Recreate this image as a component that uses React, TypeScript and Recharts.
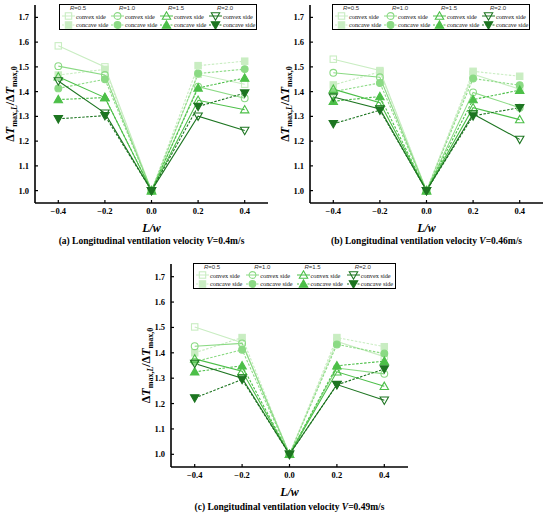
import { LineChart, Line, XAxis, YAxis, Legend } from 'recharts'

const SERIF = '"Liberation Serif", "Times New Roman", serif'
const SANS = '"Liberation Sans", Arial, sans-serif'

const X_VALUES = [-0.4, -0.2, 0, 0.2, 0.4]
const X_TICKS = [-0.4, -0.2, 0, 0.2, 0.4]
const Y_TICKS = [1.0, 1.1, 1.2, 1.3, 1.4, 1.5, 1.6, 1.7]
const RADII = ['0.5', '1.0', '1.5', '2.0']
const SERIES_COLORS = ['#c9edc2', '#8bda84', '#4cbf48', '#1d7521']
const MARKERS: Shape[] = ['square', 'circle', 'triangle', 'triangleDown']

// (a) V = 0.4 m/s
const A_CONVEX_R05 = [1.585, 1.5, 1.0, 1.47, 1.43]
const A_CONCAVE_R05 = [1.467, 1.49, 1.0, 1.505, 1.523]
const A_CONVEX_R10 = [1.503, 1.467, 1.0, 1.42, 1.373]
const A_CONCAVE_R10 = [1.413, 1.45, 1.0, 1.473, 1.491]
const A_CONVEX_R15 = [1.46, 1.376, 1.0, 1.365, 1.327]
const A_CONCAVE_R15 = [1.368, 1.376, 1.0, 1.415, 1.455]
const A_CONVEX_R20 = [1.443, 1.313, 1.0, 1.301, 1.243]
const A_CONCAVE_R20 = [1.29, 1.303, 1.0, 1.34, 1.394]

// (b) V = 0.46 m/s
const B_CONVEX_R05 = [1.531, 1.485, 1.0, 1.47, 1.41]
const B_CONCAVE_R05 = [1.427, 1.48, 1.0, 1.482, 1.462]
const B_CONVEX_R10 = [1.476, 1.458, 1.0, 1.397, 1.335]
const B_CONCAVE_R10 = [1.4, 1.435, 1.0, 1.453, 1.426]
const B_CONVEX_R15 = [1.41, 1.355, 1.0, 1.335, 1.287]
const B_CONCAVE_R15 = [1.361, 1.38, 1.0, 1.368, 1.406]
const B_CONVEX_R20 = [1.378, 1.33, 1.0, 1.31, 1.207]
const B_CONCAVE_R20 = [1.27, 1.325, 1.0, 1.302, 1.335]

// (c) V = 0.49 m/s
const C_CONVEX_R05 = [1.502, 1.44, 1.0, 1.445, 1.385]
const C_CONCAVE_R05 = [1.4, 1.46, 1.0, 1.46, 1.424]
const C_CONVEX_R10 = [1.426, 1.437, 1.0, 1.34, 1.317]
const C_CONCAVE_R10 = [1.365, 1.412, 1.0, 1.433, 1.397]
const C_CONVEX_R15 = [1.376, 1.327, 1.0, 1.325, 1.268]
const C_CONCAVE_R15 = [1.325, 1.349, 1.0, 1.349, 1.367]
const C_CONVEX_R20 = [1.358, 1.3, 1.0, 1.275, 1.213]
const C_CONCAVE_R20 = [1.222, 1.295, 1.0, 1.274, 1.336]

type Shape = 'square' | 'circle' | 'triangle' | 'triangleDown'

function Marker({ shape, cx, cy, color, filled }: { shape: Shape; cx: number; cy: number; color: string; filled: boolean }) {
  const common = { stroke: color, strokeWidth: 1.1, fill: filled ? color : 'none' }
  switch (shape) {
    case 'square':
      return <rect x={cx - 3.2} y={cy - 3.2} width={6.4} height={6.4} {...common} />
    case 'circle':
      return <circle cx={cx} cy={cy} r={3.4} {...common} />
    case 'triangle':
      return <polygon points={`${cx},${cy - 4.2} ${cx - 4.2},${cy + 3.2} ${cx + 4.2},${cy + 3.2}`} {...common} />
    default:
      return <polygon points={`${cx - 4.2},${cy - 3.2} ${cx + 4.2},${cy - 3.2} ${cx},${cy + 4.2}`} {...common} />
  }
}

const makeDot = (shape: Shape, color: string, filled: boolean) => (props: any) => {
  const { cx, cy, index } = props
  if (cx == null || cy == null) return <g key={`d-${index}`} />
  return (
    <g key={`d-${index}`}>
      <Marker shape={shape} cx={cx} cy={cy} color={color} filled={filled} />
    </g>
  )
}

function LegendBox({ width }: { width: number }) {
  const col = (width - 2) / 4
  return (
    <div
      style={{
        position: 'relative',
        width,
        height: 25.5,
        border: '1.2px solid #000',
        boxSizing: 'border-box',
        background: '#fff'
      }}
    >
      {RADII.map((r, i) => (
        <div key={r} style={{ position: 'absolute', left: 2 + i * col, top: 0, width: col, height: 24 }}>
          <div
            style={{
              position: 'absolute',
              left: 8,
              width: 14,
              top: 0,
              textAlign: 'center',
              fontFamily: SANS,
              fontSize: 6,
              lineHeight: '7px',
              color: '#333',
              whiteSpace: 'nowrap'
            }}
          >
            <i>R</i>={r}
          </div>
          <svg style={{ position: 'absolute', left: 0, top: 6 }} width={13} height={18}>
            <line x1={0} y1={5} x2={13} y2={5} stroke={SERIES_COLORS[i]} strokeWidth={1} />
            <Marker shape={MARKERS[i]} cx={6.5} cy={5} color={SERIES_COLORS[i]} filled={false} />
            <line x1={0} y1={14} x2={13} y2={14} stroke={SERIES_COLORS[i]} strokeWidth={1} strokeDasharray="2 1.5" />
            <Marker shape={MARKERS[i]} cx={6.5} cy={14} color={SERIES_COLORS[i]} filled={true} />
          </svg>
          {['convex side', 'concave side'].map((t, k) => (
            <div
              key={t}
              style={{
                position: 'absolute',
                left: 14,
                top: 7.5 + k * 8.7,
                fontFamily: SERIF,
                fontSize: 6.3,
                lineHeight: '7px',
                color: '#111',
                whiteSpace: 'nowrap'
              }}
            >
              {t}
            </div>
          ))}
        </div>
      ))}
    </div>
  )
}

interface PanelProps {
  left: number
  top: number
  width: number
  plotHeight: number
  xAxisHeight: number
  convex: number[][]
  concave: number[][]
  letter: string
  velocity: string
  legendLeft: number
  legendWidth: number
  captionGap: number
}

function Panel({ left, top, width, plotHeight, xAxisHeight, convex, concave, letter, velocity, legendLeft, legendWidth, captionGap }: PanelProps) {
  const plotTop = 5
  const yAxisWidth = 35
  const marginRight = 7
  const height = plotTop + plotHeight + xAxisHeight
  const plotWidth = width - yAxisWidth - marginRight

  const data = X_VALUES.map((x, i) => {
    const row: Record<string, number> = { x }
    RADII.forEach((_, r) => {
      row[`cvx${r}`] = convex[r][i]
      row[`ccv${r}`] = concave[r][i]
    })
    return row
  })

  const renderYLabel = () => {
    const cy = plotTop + plotHeight / 2
    return (
      <text transform={`translate(14, ${cy}) rotate(-90)`} textAnchor="middle" fontFamily={SERIF} fontWeight="bold" fontSize={12} fill="#000">
        <tspan>Δ</tspan>
        <tspan fontStyle="italic">T</tspan>
        <tspan fontSize={8} dy={2.5}>max,</tspan>
        <tspan fontSize={8} fontStyle="italic">L</tspan>
        <tspan dy={-2.5}>/Δ</tspan>
        <tspan fontStyle="italic">T</tspan>
        <tspan fontSize={8} dy={2.5}>max,0</tspan>
      </text>
    )
  }

  const renderXLabel = () => (
    <text
      x={yAxisWidth + plotWidth / 2}
      y={plotTop + plotHeight + 29}
      textAnchor="middle"
      fontFamily={SERIF}
      fontWeight="bold"
      fontStyle="italic"
      fontSize={12}
      fill="#000"
    >
      L/w
    </text>
  )

  const tickStyle = { fill: '#000', fontFamily: SERIF, fontWeight: 'bold', fontSize: 8.5 }
  const frame = { stroke: '#000', strokeWidth: 1.6 }

  return (
    <div style={{ position: 'absolute', left, top, width, height: height + captionGap + 12 }}>
      <LineChart width={width} height={height} data={data} margin={{ top: plotTop, right: marginRight, bottom: 0, left: 0 }}>
        <XAxis
          dataKey="x"
          type="number"
          domain={[-0.5, 0.5]}
          ticks={X_TICKS}
          interval={0}
          height={xAxisHeight}
          tickSize={-3}
          tickMargin={8}
          tick={tickStyle}
          tickFormatter={(v: number) => (v < 0 ? `\u2212${Math.abs(v).toFixed(1)}` : v.toFixed(1))}
          axisLine={frame}
          tickLine={{ stroke: '#000', strokeWidth: 1.2 }}
          label={{ content: renderXLabel }}
        />
        <XAxis xAxisId="top" orientation="top" dataKey="x" type="number" domain={[-0.5, 0.5]} height={0} tick={false} tickLine={false} axisLine={frame} />
        <YAxis
          type="number"
          domain={[0.95, 1.75]}
          ticks={Y_TICKS}
          interval={0}
          width={yAxisWidth}
          tickSize={-3}
          tickMargin={9}
          tick={tickStyle}
          tickFormatter={(v: number) => v.toFixed(1)}
          axisLine={frame}
          tickLine={{ stroke: '#000', strokeWidth: 1.2 }}
          label={{ content: renderYLabel }}
        />
        <YAxis yAxisId="right" orientation="right" type="number" domain={[0.95, 1.75]} width={0} tick={false} tickLine={false} axisLine={frame} />
        <Legend
          layout="horizontal"
          verticalAlign="middle"
          align="center"
          wrapperStyle={{ left: legendLeft, top: 4, width: legendWidth, height: 25.5 }}
          content={() => <LegendBox width={legendWidth} />}
        />
        {RADII.map((r, i) => [
          <Line
            key={`cvx${i}`}
            dataKey={`cvx${i}`}
            name={`R=${r} convex side`}
            type="linear"
            stroke={SERIES_COLORS[i]}
            strokeWidth={1.1}
            dot={makeDot(MARKERS[i], SERIES_COLORS[i], false)}
            activeDot={false}
            isAnimationActive={false}
          />,
          <Line
            key={`ccv${i}`}
            dataKey={`ccv${i}`}
            name={`R=${r} concave side`}
            type="linear"
            stroke={SERIES_COLORS[i]}
            strokeWidth={1.1}
            strokeDasharray="2.5 1.5"
            dot={makeDot(MARKERS[i], SERIES_COLORS[i], true)}
            activeDot={false}
            isAnimationActive={false}
          />
        ])}
      </LineChart>
      <div
        style={{
          position: 'absolute',
          left: yAxisWidth - 20,
          width: plotWidth + 40,
          top: plotTop + plotHeight + captionGap - 6,
          height: 12,
          lineHeight: '12px',
          textAlign: 'center',
          fontFamily: SERIF,
          fontWeight: 'bold',
          fontSize: 9.5,
          whiteSpace: 'nowrap'
        }}
      >
        ({letter}) Longitudinal ventilation velocity <i>V</i>={velocity}m/s
      </div>
    </div>
  )
}

export default function App() {
  return (
    <div style={{ position: 'absolute', left: 0, top: 0, width: 550, height: 515, background: '#fff', overflow: 'hidden' }}>
      <Panel
        left={0}
        top={0}
        width={275}
        plotHeight={198}
        xAxisHeight={47}
        convex={[A_CONVEX_R05, A_CONVEX_R10, A_CONVEX_R15, A_CONVEX_R20]}
        concave={[A_CONCAVE_R05, A_CONCAVE_R10, A_CONCAVE_R15, A_CONCAVE_R20]}
        letter="a"
        velocity="0.4"
        legendLeft={59}
        legendWidth={198}
        captionGap={38}
      />
      <Panel
        left={275}
        top={0}
        width={275}
        plotHeight={198}
        xAxisHeight={47}
        convex={[B_CONVEX_R05, B_CONVEX_R10, B_CONVEX_R15, B_CONVEX_R20]}
        concave={[B_CONCAVE_R05, B_CONCAVE_R10, B_CONCAVE_R15, B_CONCAVE_R20]}
        letter="b"
        velocity="0.46"
        legendLeft={57}
        legendWidth={198}
        captionGap={38}
      />
      <Panel
        left={136}
        top={259}
        width={279}
        plotHeight={203}
        xAxisHeight={48}
        convex={[C_CONVEX_R05, C_CONVEX_R10, C_CONVEX_R15, C_CONVEX_R20]}
        concave={[C_CONCAVE_R05, C_CONCAVE_R10, C_CONCAVE_R15, C_CONCAVE_R20]}
        letter="c"
        velocity="0.49"
        legendLeft={57}
        legendWidth={203}
        captionGap={40}
      />
    </div>
  )
}
